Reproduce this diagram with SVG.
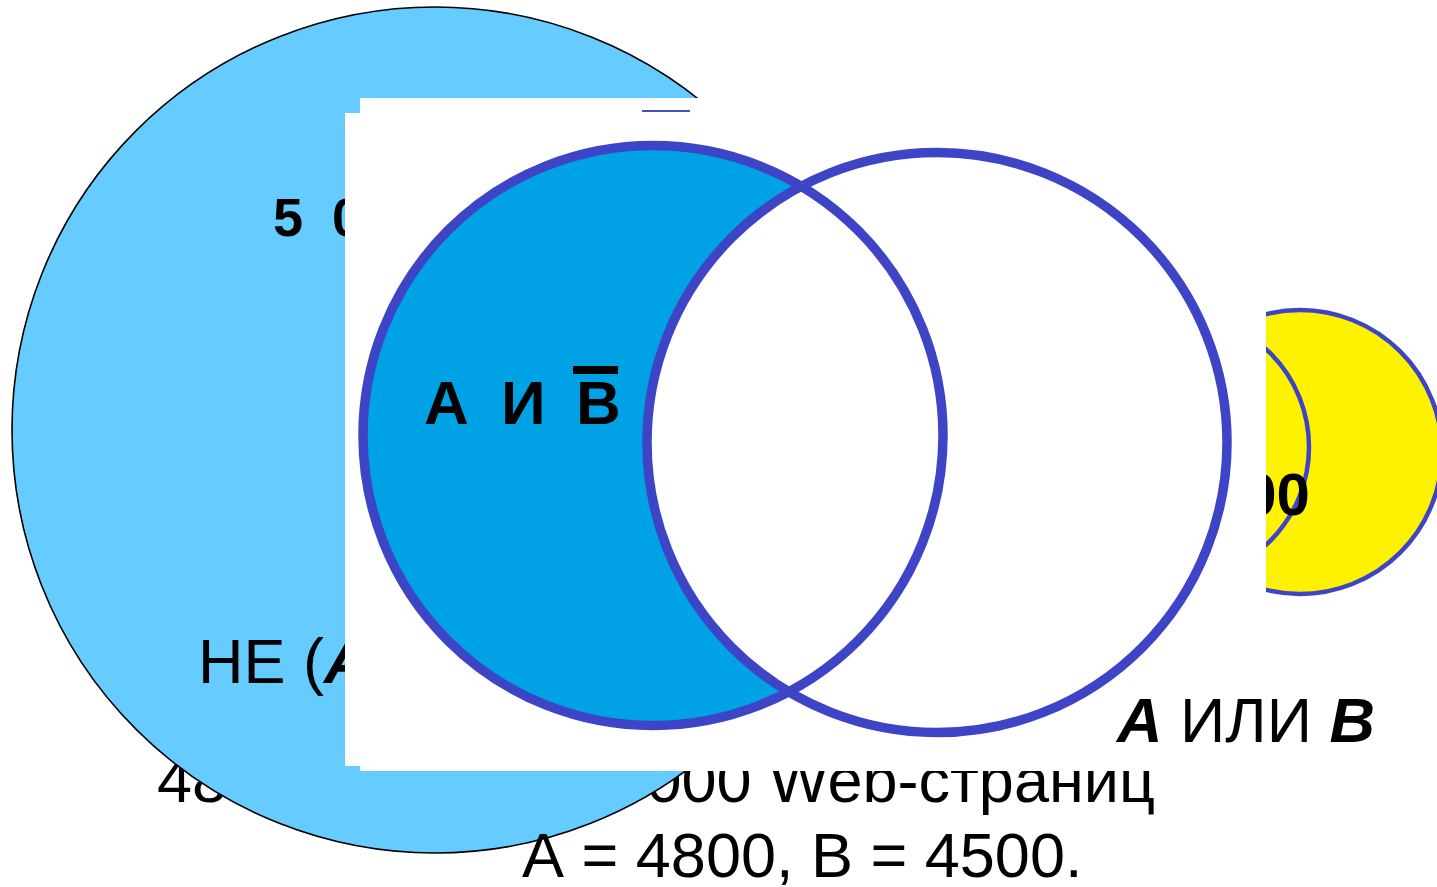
<svg xmlns="http://www.w3.org/2000/svg" width="1437" height="887" viewBox="0 0 1437 887">
<style>
text{font-family:"Liberation Sans",Arial,sans-serif;fill:#000}
.r{font-size:63px}
.b{font-weight:bold}
.bi{font-weight:bold;font-style:italic}
.ring{fill:none;stroke:#3D45C6;stroke-width:9.5}
.ys{fill:#FFF200;stroke:#3D45C6;stroke-width:4.5}
.panel{fill:#FFFFFF}
</style>
<rect width="1437" height="887" fill="#FFFFFF"/>
<g id="bottom-line-1">
<text class="r" x="157" y="802">48</text>
<text class="r" x="1155" y="802" text-anchor="end">000 Web-страниц</text>
</g>
<g id="universe">
<circle cx="435" cy="430" r="423" fill="#66CCFF" stroke="#000" stroke-width="1.6"/>
<text class="b" x="273" y="236" font-size="54">5 <tspan x="332">0</tspan></text>
<text class="r" x="198" y="683" font-size="64">НЕ (<tspan class="bi">А</tspan></text>
</g>
<g id="or-venn">
<circle class="ys" cx="1300" cy="452" r="142"/>
<circle class="ys" cx="1176" cy="447" r="133"/>
<text class="b" x="1310" y="515" font-size="60" text-anchor="end">00</text>
</g>
<g id="panels">
<rect class="panel" x="345" y="113" width="921" height="653"/>
<rect class="panel" x="360" y="98" width="906" height="673"/>
<rect x="642" y="110" width="48" height="2" fill="#4A4FC0"/>
</g>
<g id="venn">
<path id="a-not-b" d="M801.2,186.3 A290,290 0 1 0 788.8,691.7 A290,290 0 0 1 801.2,186.3 Z" fill="#00A2E6"/>
<circle id="circle-a" class="ring" cx="653" cy="435.5" r="290"/>
<circle id="circle-b" class="ring" cx="937" cy="442.5" r="290"/>
</g>
<g id="label-a-and-not-b">
<text class="b" y="424" font-size="62"><tspan x="424">А</tspan><tspan x="501">И</tspan><tspan x="576">В</tspan></text>
<rect x="573" y="366" width="45" height="8" fill="#000"/>
</g>
<g id="label-a-or-b">
<text class="r" x="1117" y="742"><tspan class="bi">А</tspan> ИЛИ <tspan class="bi">В</tspan></text>
</g>
<g id="bottom-line-2">
<text class="r" x="522" y="877">А = 4800, В = 4500.</text>
</g>
</svg>
